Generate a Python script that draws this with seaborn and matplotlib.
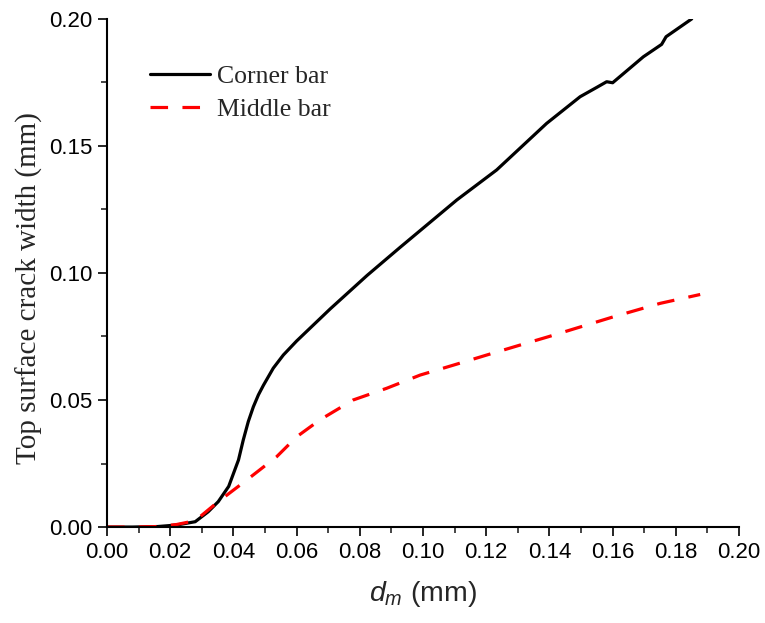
import pandas as pd
import seaborn as sns
import matplotlib.pyplot as plt
from matplotlib.ticker import MultipleLocator

# values: d_m (mm) vs top surface crack width (mm)
corner_x = [0.0, 0.008, 0.016, 0.022, 0.0279, 0.0320, 0.0352, 0.0385, 0.0416, 0.0431,
            0.0447, 0.0463, 0.0479, 0.0495, 0.0526, 0.0558, 0.0600, 0.0706, 0.0823,
            0.0927, 0.1107, 0.1233, 0.1391, 0.1497, 0.1550, 0.1581, 0.1600, 0.1697,
            0.1755, 0.1769, 0.1850]
corner_y = [0.0, 0.0, 0.0002, 0.0008, 0.0021, 0.0060, 0.0100, 0.0160, 0.0264, 0.0342,
            0.0415, 0.0473, 0.0520, 0.0558, 0.0625, 0.0677, 0.0732, 0.0858, 0.0990,
            0.1100, 0.1287, 0.1405, 0.1588, 0.1693, 0.1730, 0.1752, 0.1748, 0.1850,
            0.1899, 0.1929, 0.1999]

middle_x = [0.0, 0.008, 0.016, 0.022, 0.0279, 0.0352, 0.0442, 0.0537, 0.0600, 0.0674,
            0.0779, 0.0885, 0.0991, 0.1096, 0.1202, 0.1307, 0.1397, 0.1602, 0.1750,
            0.1877]
middle_y = [0.0, 0.0, 0.0002, 0.0010, 0.0025, 0.0100, 0.0185, 0.0277, 0.0355, 0.0422,
            0.0500, 0.0546, 0.0598, 0.0637, 0.0677, 0.0716, 0.0749, 0.0827, 0.0880,
            0.0915]

df = pd.concat([
    pd.DataFrame({"dm": corner_x, "w": corner_y, "bar": "Corner bar"}),
    pd.DataFrame({"dm": middle_x, "w": middle_y, "bar": "Middle bar"}),
])

sns.set_style("ticks")
plt.rcParams["font.family"] = ["Liberation Sans", "DejaVu Sans"]
plt.rcParams["mathtext.fontset"] = "custom"
plt.rcParams["mathtext.it"] = "Liberation Sans:italic"
plt.rcParams["mathtext.rm"] = "Liberation Sans"

fig = plt.figure(figsize=(7.65, 6.23), dpi=100)
ax = fig.add_axes([0.1399, 0.154, 0.8262, 0.816])

sns.lineplot(data=df, x="dm", y="w", hue="bar", style="bar",
             palette={"Corner bar": "black", "Middle bar": "#ff0000"},
             dashes={"Corner bar": "", "Middle bar": (5.5, 4.5)},
             estimator=None, sort=False, linewidth=2.3, ax=ax)

ax.set_xlim(0, 0.20)
ax.set_ylim(0, 0.20)
ax.xaxis.set_major_locator(MultipleLocator(0.02))
ax.xaxis.set_minor_locator(MultipleLocator(0.01))
ax.yaxis.set_major_locator(MultipleLocator(0.05))
ax.yaxis.set_minor_locator(MultipleLocator(0.025))
ax.xaxis.set_major_formatter(lambda v, p: f"{v:.2f}")
ax.yaxis.set_major_formatter(lambda v, p: f"{v:.2f}")
ax.tick_params(which="major", direction="out", length=6.5, width=1.2, labelsize=16, colors="black", pad=4)
ax.tick_params(which="minor", direction="out", length=4.3, width=1.2)
for s in ["left", "bottom"]:
    ax.spines[s].set_linewidth(1.5)
    ax.spines[s].set_color("black")
sns.despine(ax=ax)

ax.set_xlabel("$d_m$ (mm)", fontsize=20.5, labelpad=12)
ax.set_ylabel("Top surface crack width (mm)", fontsize=21, family="Liberation Serif")
ax.yaxis.set_label_coords(-0.102, 0.47)

leg = ax.legend(loc="upper left", bbox_to_anchor=(0.068, 0.909), frameon=False,
                borderpad=0, borderaxespad=0,
                prop={"family": "Liberation Serif", "size": 18.5}, handlelength=2.35,
                handletextpad=0.25, labelspacing=0.4)

fig.savefig("out.png", dpi=100)
